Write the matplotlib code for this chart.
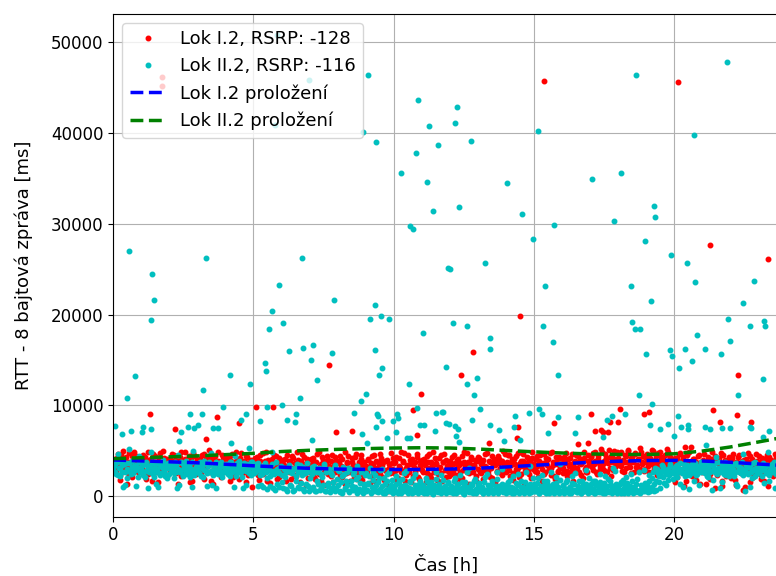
import numpy as np
import matplotlib
matplotlib.use("Agg")
import matplotlib.pyplot as plt

# RTT measurements, two probes per 3 minute slot (0.05 h), values in ms
step_h = 0.05

red_band = [
    3400, 4100, 2800, 4600, 3900, 2300, 3600, 5000, 3100, 4300, 1300, 3800, 2600, 4400, 3500, 4800, 2900, 3700, 4200, 3300,  # 0 h
    2700, 4500, 3900, 1900, 3600, 4900, 3200, 4100, 2500, 3800, 4400, 3000, 1500, 4700, 3500, 2900, 4200, 3700, 2200, 4000,  # 1 h
    3900, 3100, 4600, 2700, 3500, 4200, 1300, 3800, 4900, 3300, 2600, 4100, 3600, 2900, 4400, 3200, 1700, 4700, 3400, 2400,  # 2 h
    4000, 3500, 2800, 4500, 3100, 1900, 4200, 3700, 5100, 2600, 3900, 1300, 4300, 3300, 2900, 4800, 3600, 2100, 4100, 3400,  # 3 h
    2800, 4300, 3600, 1600, 3900, 4600, 3000, 2500, 4100, 3400, 1900, 4700, 3200, 2700, 3800, 4400, 2300, 3500, 4000, 1000,  # 4 h
    3300, 4200, 2600, 3700, 1800, 4500, 3100, 2400, 3900, 4800, 2900, 3500, 1400, 4100, 3200, 2700, 4400, 3600, 2100, 3800,  # 5 h
    2900, 4000, 3400, 1700, 4500, 2600, 3700, 3100, 4200, 2300, 3500, 4800, 2800, 1500, 3900, 3300, 4300, 2500, 3600, 2000,  # 6 h
    3200, 4100, 2700, 3800, 1900, 4600, 3000, 2400, 3500, 4300, 1200, 3700, 2900, 4000, 3300, 2200, 4500, 3100, 2600, 3900,  # 7 h
    2800, 3600, 4400, 2100, 3200, 4900, 2500, 3800, 3000, 1600, 4200, 3400, 2700, 4600, 1900, 3500, 3100, 4100, 2300, 3700,  # 8 h
    3300, 2600, 4000, 1400, 3600, 2900, 4500, 3100, 600, 3800, 2400, 4200, 3400, 1800, 3900, 2700, 500, 3500, 4700, 3000,  # 9 h
    2500, 3700, 4300, 2000, 3300, 4800, 2800, 3900, 1600, 3100, 4500, 2600, 3500, 4100, 2200, 3800, 3000, 4600, 1900, 3400,  # 10 h
    4000, 2700, 3600, 1500, 4400, 3100, 2300, 3800, 4900, 2900, 3500, 1800, 4200, 3200, 2500, 3700, 4600, 2100, 3300, 2800,  # 11 h
    3900, 2400, 3500, 4500, 1700, 3100, 4100, 2700, 3600, 2000, 4800, 3300, 2600, 3800, 1300, 4300, 2900, 3400, 4000, 2200,  # 12 h
    3000, 4200, 2500, 3700, 1900, 4600, 3200, 2800, 3900, 2100, 4400, 3500, 1500, 3800, 2700, 4100, 3100, 2300, 5000, 3400,  # 13 h
    2600, 3800, 4500, 2200, 3400, 1800, 4100, 3000, 2700, 4700, 3600, 2400, 3900, 1400, 3200, 4300, 2900, 3700, 2000, 4200,  # 14 h
    3500, 2800, 4400, 2100, 3900, 3300, 1700, 4600, 2600, 3700, 4100, 3000, 2300, 4800, 3400, 1900, 3800, 2700, 4300, 3100,  # 15 h
    4000, 2500, 3600, 4700, 2200, 3300, 4200, 2900, 1600, 3800, 4500, 3100, 2700, 4100, 3500, 2000, 4900, 3200, 2600, 3900,  # 16 h
    3700, 4400, 2900, 3500, 4800, 2400, 4100, 3300, 5200, 3000, 3900, 4600, 2700, 3600, 4300, 2200, 3800, 5000, 3200, 4000,  # 17 h
    4200, 3400, 4900, 2800, 3800, 4500, 3100, 5100, 3600, 2500, 4300, 3900, 4700, 3200, 2900, 4100, 5300, 3500, 4400, 3000,  # 18 h
    3800, 4600, 2700, 4200, 3500, 5000, 3100, 4400, 2300, 3900, 4800, 3300, 4100, 2900, 3700, 5200, 3400, 4300, 2600, 4000,  # 19 h
    3600, 1500, 4200, 3100, 4700, 2600, 3900, 1100, 3400, 4500, 2900, 3700, 5400, 2200, 4100, 3300, 1800, 4400, 3000, 3800,  # 20 h
    2700, 4000, 3500, 1300, 4300, 3100, 2400, 4800, 3600, 900, 3900, 2900, 4200, 3300, 1700, 4500, 3000, 2200, 3800, 4100,  # 21 h
    3400, 2000, 4600, 3100, 1200, 3800, 4300, 2600, 3500, 700, 4000, 3200, 2800, 4700, 1500, 3600, 4100, 2300, 3300, 3900,  # 22 h
    3000, 4400, 1900, 3500, 4100, 2600, 3700, 1100, 4300, 3200, 2800, 3900, 4600, 3400,  # 23 h
]

red_band2 = [
    3700, 2600, 4200, 3200, 1800, 4500, 3500, 2900, 4000, 3300, 2500, 4700, 3600, 2100, 3900, 3100, 4400, 2700, 3800, 4100,  # 0 h
    3500, 2900, 4300, 3700, 2400, 4000, 3300, 1700, 4600, 3100, 3800, 2600, 4200, 3400, 2800, 5000, 3600, 2300, 4100, 3200,  # 1 h
    2800, 4000, 3300, 4500, 2500, 3700, 3100, 4300, 2200, 3900, 3500, 4800, 2900, 3200, 1500, 4100, 3600, 2700, 4400, 3000,  # 2 h
    3300, 4100, 2400, 3800, 4600, 3000, 2700, 3500, 4200, 1700, 3700, 3100, 4400, 2800, 3900, 3400, 2300, 4500, 3200, 2900,  # 3 h
    4100, 3100, 2700, 4400, 3300, 2100, 3800, 4800, 2900, 3600, 4200, 2500, 3300, 3900, 1500, 4300, 3000, 3700, 2600, 3400,  # 4 h
    2800, 3600, 4300, 2300, 3900, 3200, 4700, 2600, 3400, 1600, 4000, 3000, 3700, 2500, 4500, 3100, 1900, 3800, 4200, 2900,  # 5 h
    3600, 2400, 4100, 3200, 2800, 3900, 1900, 4400, 3000, 3600, 2200, 4000, 3300, 2600, 4600, 2900, 3500, 1200, 4100, 3100,  # 6 h
    2600, 3500, 4200, 2100, 3700, 2900, 4800, 3300, 1700, 4000, 2700, 3600, 4400, 2400, 3100, 3900, 1500, 3400, 4300, 2800,  # 7 h
    3900, 2300, 3300, 4100, 2900, 1300, 3600, 4400, 2600, 3100, 3800, 2000, 4300, 3200, 2500, 3700, 4500, 1800, 3400, 2900,  # 8 h
    2700, 4100, 3200, 2200, 4400, 3500, 1600, 3900, 2800, 3300, 4600, 2100, 3700, 2900, 1300, 4000, 3100, 2500, 3600, 4200,  # 9 h
    3600, 2900, 1800, 4200, 3100, 2600, 3800, 4700, 2300, 3400, 2900, 4000, 1500, 3600, 3200, 2700, 4300, 2100, 3900, 3000,  # 10 h
    2900, 4100, 3400, 2500, 3800, 4600, 2000, 3300, 2700, 4200, 3600, 2400, 3100, 4500, 1700, 3700, 2900, 4000, 3400, 2200,  # 11 h
    3200, 4300, 2800, 3600, 2300, 4000, 3400, 1900, 4400, 2900, 3700, 3100, 4700, 2500, 3500, 4100, 2700, 3300, 1600, 3900,  # 12 h
    4300, 2600, 3500, 4000, 2900, 3300, 4700, 2400, 3700, 3100, 2000, 4100, 3400, 2800, 4400, 3600, 2500, 3900, 3200, 4600,  # 13 h
    3300, 4500, 2900, 3700, 4100, 2500, 3500, 4400, 3100, 2100, 3900, 3300, 4600, 2800, 3600, 4200, 2400, 3400, 4800, 3000,  # 14 h
    4100, 3200, 2600, 3800, 4500, 3000, 3600, 2400, 4200, 3400, 2900, 4700, 3100, 3700, 2200, 4300, 3500, 2800, 4000, 3600,  # 15 h
    3100, 4300, 3700, 2800, 4100, 3500, 2400, 4600, 3200, 3900, 2700, 4400, 3600, 2300, 3800, 4200, 3000, 2600, 4500, 3400,  # 16 h
    4300, 3200, 4700, 3900, 2600, 4400, 3600, 3000, 4900, 3500, 2800, 4200, 3700, 5100, 3100, 4500, 2900, 4100, 3500, 4800,  # 17 h
    3600, 4700, 3300, 4000, 2700, 4400, 3800, 5000, 3200, 4200, 3700, 2600, 4600, 3400, 4100, 3000, 4800, 3700, 2800, 4300,  # 18 h
    4400, 3300, 4100, 3700, 5100, 2900, 4000, 3500, 4700, 3200, 4300, 2800, 3800, 4500, 3400, 4900, 3000, 4200, 3600, 3100,  # 19 h
    4200, 3400, 2100, 4600, 3700, 2900, 4300, 3200, 1600, 3900, 4800, 2700, 3500, 4100, 2400, 3800, 3100, 4500, 1300, 3600,  # 20 h
    3300, 4600, 2600, 3900, 3500, 1900, 4100, 2900, 3700, 4400, 2300, 3600, 3100, 4700, 1100, 3400, 4000, 2700, 3200, 4300,  # 21 h
    2900, 4200, 3600, 1800, 3800, 3000, 4500, 2500, 3900, 3400, 1000, 4100, 3700, 2700, 4400, 3200, 2100, 3800, 4600, 3100,  # 22 h
    3700, 2400, 4200, 3300, 1600, 3900, 4500, 2900, 3500, 4000, 2200, 3600, 4300, 3100,  # 23 h
]

cyan_band = [
    2900, 3500, 2400, 4600, 3100, 2200, 3400, 1000, 2700, 3600, 2000, 5200, 2800, 3900, 2500, 3300, 1100, 3000, 4400, 2600,  # 0 h
    3200, 2300, 3600, 2800, 3400, 900, 2600, 4800, 3000, 2100, 3500, 2700, 1000, 3300, 2500, 3700, 2900, 2200, 3100, 3600,  # 1 h
    2400, 3500, 3000, 2000, 3800, 2700, 4500, 1200, 2900, 3600, 2300, 3100, 3900, 2600, 3400, 2100, 1000, 5000, 2800, 3200,  # 2 h
    3000, 2500, 3700, 3300, 2100, 3900, 2800, 1100, 3400, 2600, 4700, 2300, 3100, 900, 2900, 3500, 2400, 3800, 2700, 3200,  # 3 h
    2600, 3400, 3100, 2200, 3700, 2900, 1000, 4400, 2500, 3300, 3900, 2700, 2100, 3600, 3000, 1200, 2800, 5300, 2300, 3800,  # 4 h
    3100, 2700, 3500, 1100, 2900, 3300, 2400, 1000, 3600, 2600, 800, 3000, 2200, 4900, 900, 2800, 3700, 1300, 2500, 3200,  # 5 h
    2300, 900, 3100, 2700, 600, 3400, 1200, 2600, 3000, 700, 2200, 3500, 1000, 2800, 1400, 3200, 500, 2500, 3600, 1100,  # 6 h
    2900, 800, 2400, 3300, 600, 2700, 1300, 3100, 900, 2100, 3500, 500, 2600, 1100, 3000, 700, 2300, 1500, 3400, 800,  # 7 h
    1200, 2800, 400, 2200, 3200, 900, 1600, 2600, 500, 3000, 1100, 2400, 700, 1900, 3300, 600, 1400, 2700, 300, 1000,  # 8 h
    2500, 700, 1300, 3100, 400, 1800, 900, 2300, 500, 1500, 2900, 600, 1100, 2000, 300, 1600, 800, 2700, 1200, 400,  # 9 h
    1000, 600, 2200, 300, 1400, 800, 1900, 500, 1200, 2800, 400, 900, 1600, 300, 700, 2400, 1100, 500, 1300, 800,  # 10 h
    400, 1200, 700, 2000, 300, 1000, 600, 1500, 200, 900, 2600, 500, 1300, 700, 300, 1800, 1000, 400, 800, 1400,  # 11 h
    600, 1100, 300, 1700, 800, 400, 1300, 2300, 500, 900, 200, 1500, 700, 1000, 3100, 400, 1200, 600, 1900, 300,  # 12 h
    800, 1400, 500, 1000, 300, 2100, 700, 1200, 400, 900, 1600, 300, 600, 1100, 2700, 500, 800, 1300, 400, 1000,  # 13 h
    300, 1200, 700, 1800, 500, 900, 300, 1400, 600, 2400, 400, 1000, 800, 300, 1500, 600, 1100, 3300, 400, 900,  # 14 h
    1300, 500, 800, 2000, 300, 1100, 600, 1600, 400, 900, 1200, 300, 2600, 700, 1000, 400, 1400, 800, 300, 1800,  # 15 h
    600, 1100, 400, 1500, 800, 300, 1000, 2200, 500, 1300, 700, 400, 1700, 900, 300, 1200, 600, 2900, 500, 1000,  # 16 h
    400, 1300, 800, 300, 1600, 600, 1100, 2400, 400, 900, 1400, 300, 700, 1900, 500, 1200, 300, 1000, 2800, 600,  # 17 h
    900, 400, 1500, 700, 300, 1200, 2100, 500, 1000, 600, 1700, 300, 800, 1300, 400, 2600, 700, 1100, 500, 1400,  # 18 h
    800, 1200, 2300, 500, 1000, 2700, 600, 1600, 3000, 2200, 900, 2600, 3200, 1400, 2400, 2900, 1800, 3300, 2500, 2800,  # 19 h
    3100, 2400, 3400, 2700, 1300, 3000, 2600, 3500, 2200, 2900, 3300, 800, 2500, 3200, 2800, 3600, 2300, 3000, 1200, 2700,  # 20 h
    2900, 3400, 2500, 3100, 2100, 3500, 2800, 700, 3300, 2600, 4300, 2400, 3700, 2700, 1500, 3200, 2900, 2300, 3400, 2800,  # 21 h
    2600, 3300, 3000, 2200, 3600, 1100, 2800, 3100, 2500, 4600, 2900, 600, 3200, 2400, 3400, 2700, 2000, 3000, 3700, 2600,  # 22 h
    3100, 2500, 3400, 2900, 1400, 3200, 2700, 4800, 2300, 3000, 3500, 2800, 900, 3300,  # 23 h
]

cyan_band2 = [
    3300, 2700, 3700, 2300, 3100, 3900, 2600, 3500, 1200, 3000, 2800, 3600, 2400, 3200, 4100, 2900, 3400, 2100, 3800, 2700,  # 0 h
    2800, 3400, 2100, 3800, 3000, 2600, 3300, 3700, 2400, 3100, 1300, 2900, 3600, 2300, 3200, 4000, 2700, 3500, 2000, 3300,  # 1 h
    3600, 2800, 3200, 2500, 3400, 900, 3000, 2700, 3700, 2200, 3300, 2900, 2400, 3500, 3100, 2600, 3800, 2300, 3000, 3400,  # 2 h
    2700, 3500, 2200, 3100, 2900, 3600, 2500, 3300, 3800, 2800, 1200, 3200, 2600, 3700, 2400, 3000, 3400, 2100, 3300, 2800,  # 3 h
    3500, 2400, 3000, 3700, 2700, 3300, 2900, 2200, 3600, 3100, 2600, 3400, 900, 3000, 2800, 3500, 2500, 3200, 3700, 2700,  # 4 h
    2500, 3300, 2900, 3600, 2300, 1200, 3100, 2700, 3400, 2000, 3200, 1100, 2800, 3500, 2400, 700, 3000, 2600, 1000, 3300,  # 5 h
    1500, 3000, 2100, 800, 2800, 3300, 1100, 2500, 600, 3100, 1700, 2700, 900, 3400, 2300, 800, 2900, 1300, 2600, 500,  # 6 h
    2000, 3200, 1000, 2700, 500, 1700, 3000, 700, 2400, 1200, 3300, 600, 2800, 1400, 400, 2500, 1000, 3100, 600, 1900,  # 7 h
    2900, 600, 1500, 300, 2400, 800, 1200, 3100, 400, 1700, 700, 2600, 1000, 300, 2100, 800, 2900, 500, 1300, 2300,  # 8 h
    500, 1400, 2200, 300, 1000, 2600, 600, 1200, 400, 2000, 800, 3000, 300, 1300, 700, 2400, 500, 1000, 1800, 300,  # 9 h
    700, 1300, 400, 1800, 900, 300, 1100, 2500, 600, 1000, 300, 1500, 800, 2000, 400, 1200, 700, 300, 1700, 900,  # 10 h
    1100, 300, 900, 1600, 500, 1300, 800, 300, 1200, 600, 1900, 400, 1000, 2300, 700, 500, 1100, 300, 1500, 800,  # 11 h
    400, 1000, 700, 2000, 300, 1200, 800, 500, 1500, 300, 1100, 700, 2600, 400, 900, 1300, 300, 1700, 800, 500,  # 12 h
    1200, 500, 900, 300, 1500, 700, 2400, 300, 1000, 600, 1300, 400, 800, 1900, 300, 1100, 700, 3000, 500, 1200,  # 13 h
    700, 1500, 400, 1000, 300, 2200, 800, 500, 1200, 300, 1700, 600, 1000, 400, 2700, 800, 300, 1300, 600, 2000,  # 14 h
    500, 900, 1400, 300, 800, 2300, 500, 1100, 300, 1700, 700, 1000, 400, 1300, 300, 2100, 600, 1000, 3500, 400,  # 15 h
    1200, 300, 800, 1800, 500, 1000, 300, 1400, 700, 2500, 400, 1100, 800, 300, 1600, 500, 900, 1300, 300, 2000,  # 16 h
    900, 500, 1700, 300, 1200, 700, 400, 1500, 1000, 300, 2200, 600, 1100, 400, 1600, 800, 3100, 500, 1300, 300,  # 17 h
    600, 1300, 300, 1800, 900, 500, 1400, 300, 1100, 2400, 700, 1000, 400, 1900, 600, 300, 1200, 800, 2900, 500,  # 18 h
    1100, 400, 1700, 900, 2000, 1300, 3100, 700, 2500, 1500, 2800, 3400, 2100, 2700, 1200, 3000, 2300, 3500, 2600, 1900,  # 19 h
    2800, 3300, 2100, 3000, 3600, 2500, 1000, 3200, 2700, 3400, 2300, 2900, 3500, 2600, 1600, 3100, 2400, 3300, 2800, 3700,  # 20 h
    3200, 2600, 3500, 2200, 3000, 2700, 3400, 1800, 2900, 3600, 2500, 3100, 900, 2800, 3300, 2400, 3700, 2600, 3000, 2200,  # 21 h
    3000, 2400, 3500, 2700, 1300, 3300, 2600, 3100, 3800, 2300, 2900, 3400, 2500, 3200, 1000, 2800, 3600, 2200, 3100, 2900,  # 22 h
    2700, 3300, 2200, 3600, 3000, 2500, 3400, 1700, 2900, 3200, 2600, 3800, 2400, 3100,  # 23 h
]

# isolated large delays
red_hi_t = [1.30, 1.73, 1.75, 2.21, 3.30, 3.71, 4.48, 5.08, 5.71, 7.70, 7.93, 8.52, 10.68, 10.84, 10.99,
            12.39, 12.82, 13.41, 14.40, 14.43, 14.52, 15.35, 15.73, 16.57, 16.92, 17.04, 17.17, 17.39, 17.46,
            17.66, 17.72, 17.99, 18.07, 18.94, 19.12, 20.15, 20.40, 21.30, 21.40, 21.64, 22.24, 22.28, 22.74, 23.37]
red_hi_v = [9000, 45180, 46210, 7380, 6310, 8710, 8080, 9810, 9770, 14400, 7050, 7200, 9480, 6700, 11240,
            13330, 15900, 5870, 6350, 7640, 19840, 45730, 8080, 5730, 5870, 9000, 7200, 7270, 7090,
            7020, 8150, 8120, 9590, 9040, 9290, 45590, 5430, 27630, 9440, 8150, 8890, 13330, 8150, 26090]

cyan_hi_t = [0.05, 0.32, 0.50, 0.55, 0.62, 0.76, 1.01, 1.07, 1.35, 1.36, 1.39, 1.44, 2.34, 2.40, 2.65, 2.75,
             2.89, 3.01, 3.15, 3.20, 3.30, 3.55, 3.74, 3.92, 4.16, 4.21, 4.57, 4.72, 4.89, 5.22, 5.40, 5.45,
             5.50, 5.55, 5.66, 5.77, 5.83, 5.90, 6.00, 6.05, 6.20, 6.26, 6.48, 6.52, 6.66, 6.73, 6.77, 6.97,
             7.06, 7.10, 7.11, 7.26, 7.79, 7.88, 8.57, 8.85, 8.87, 8.89, 9.00, 9.05, 9.10, 9.15, 9.34, 9.35,
             9.37, 9.38, 9.41, 9.43, 9.48, 9.54, 9.59, 9.60, 9.78, 9.82, 9.98, 10.07, 10.12, 10.17, 10.26,
             10.47, 10.55, 10.58, 10.60, 10.68, 10.80, 10.82, 10.88, 10.95, 11.06, 11.08, 11.18, 11.27, 11.42,
             11.46, 11.52, 11.57, 11.72, 11.76, 11.85, 11.86, 11.95, 11.97, 12.01, 12.11, 12.19, 12.20, 12.22,
             12.25, 12.30, 12.32, 12.34, 12.60, 12.61, 12.77, 12.80, 12.87, 12.97, 13.07, 13.27, 13.42, 13.44,
             13.43, 13.76, 13.93, 14.03, 14.30, 14.33, 14.50, 14.57, 14.82, 14.96, 15.16, 15.20, 15.30, 15.31,
             15.40, 15.50, 15.69, 15.73, 15.87, 15.88, 16.47, 16.57, 17.09, 17.46, 17.60, 17.80, 17.86, 18.11,
             18.26, 18.46, 18.50, 18.60, 18.65, 18.74, 18.80, 18.98, 18.99, 19.14, 19.17, 19.23, 19.27, 19.33,
             19.50, 19.77, 19.87, 19.91, 19.93, 20.00, 20.15, 20.19, 20.26, 20.39, 20.48, 20.49, 20.50, 20.64,
             20.73, 20.74, 20.82, 21.10, 21.12, 21.15, 21.30, 21.69, 21.70, 21.88, 21.94, 21.99, 22.00, 22.28,
             22.47, 22.70, 22.72, 22.75, 22.86, 23.16, 23.19, 23.20, 23.25, 23.40]
cyan_hi_v = [7750, 6800, 10830, 27030, 7200, 13220, 7090, 7570, 19360, 7350, 24460, 21600, 6090, 7050, 7640, 9000,
             7460, 7820, 9000, 11710, 26190, 7480, 7480, 9770, 13370, 5870, 8370, 8990, 12310, 8260, 14690, 13780,
             9770, 18440, 20390, 40900, 50800, 23250, 10060, 19070, 8410, 15950, 8150, 9000, 10800, 26190, 16340, 45900,
             14990, 6140, 16640, 12780, 15730, 21600, 9150, 10500, 6800, 40080, 11240, 5870, 46360, 19510, 21010, 16060,
             39000, 7660, 9040, 8820, 13330, 19800, 14110, 8260, 6420, 19510, 8230, 7050, 9000, 8600, 35560,
             6420, 12310, 29750, 6420, 29390, 37770, 9700, 43640, 7860, 18000, 7860, 34640, 40770, 31370,
             7200, 9150, 38680, 9290, 9300, 8000, 14250, 25090, 7900, 25050, 19070, 41100, 7700, 6600,
             42870, 7400, 6000, 31810, 18770, 12380, 39160, 8400, 11100, 12970, 9590, 25640, 17410, 16200,
             7860, 7280, 6090, 34490, 7640, 8850, 6200, 31040, 9150, 28350, 40190, 9590, 9040, 18770,
             23110, 6900, 16940, 29860, 8740, 13330, 6900, 8740, 34930, 6460, 8370, 8850, 30300, 35560,
             9040, 23110, 19210, 18440, 46360, 11100, 18440, 28060, 15610, 7800, 21460, 10170, 31960, 30750,
             7350, 7900, 16060, 26520, 15400, 6640, 8850, 14140, 7640, 16200, 25640, 7860, 7350, 14880,
             39750, 23550, 17710, 7640, 16200, 5600, 7350, 15610, 7460, 47860, 19510, 17110, 7460, 11100,
             21300, 7600, 18770, 7500, 23690, 6460, 12930, 19300, 18700, 7200]

# fitted curves
fit_t = [0, 1, 2, 3, 4, 5, 6, 7, 8, 9, 10, 11, 12, 13, 14, 15, 16, 17, 18, 19, 20, 21, 22, 23, 23.7]
fit_red = [3970, 3870, 3770, 3660, 3500, 3330, 3180, 3050, 2970, 2930, 2920, 2930, 2970,
           3060, 3200, 3380, 3560, 3710, 3830, 3910, 3930, 3860, 3720, 3530, 3400]
fit_cyan = [4110, 4220, 4320, 4420, 4560, 4700, 4900, 5040, 5140, 5220, 5290, 5320, 5290,
            5180, 5020, 4870, 4740, 4640, 4580, 4580, 4650, 4950, 5400, 5950, 6350]

t_red = np.concatenate([np.arange(len(red_band)) * step_h,
                        np.arange(len(red_band2)) * step_h + step_h / 2, red_hi_t])
v_red = np.concatenate([red_band, red_band2, red_hi_v])
t_cyan = np.concatenate([np.arange(len(cyan_band)) * step_h,
                         np.arange(len(cyan_band2)) * step_h + step_h / 2, cyan_hi_t])
v_cyan = np.concatenate([cyan_band, cyan_band2, cyan_hi_v])

fig = plt.figure(figsize=(7.76, 5.76), dpi=100)
ax = fig.add_axes([113.3 / 776, 1 - 516.7 / 576, (778 - 113.3) / 776, (516.7 - 14) / 576])
ax.plot(t_red, v_red, 'r.', ms=6.5, label='Lok I.2, RSRP: -128')
ax.plot(t_cyan, v_cyan, 'c.', ms=6.5, label='Lok II.2, RSRP: -116')
ax.plot(fit_t, fit_red, 'b--', lw=2.5, label='Lok I.2 proložení')
ax.plot(fit_t, fit_cyan, 'g--', lw=2.5, label='Lok II.2 proložení')

ax.set_xlim(0, 23.71)
ax.set_ylim(-2280, 53120)
ax.set_xticks([0, 5, 10, 15, 20])
ax.tick_params(labelsize=12)
ax.grid(True)
ax.set_xlabel('Čas [h]', fontsize=13, labelpad=8)
ax.set_ylabel('RTT - 8 bajtová zpráva [ms]', fontsize=13, labelpad=13)
ax.legend(loc='upper left', fontsize=13)

plt.savefig('out.png', dpi=100)
